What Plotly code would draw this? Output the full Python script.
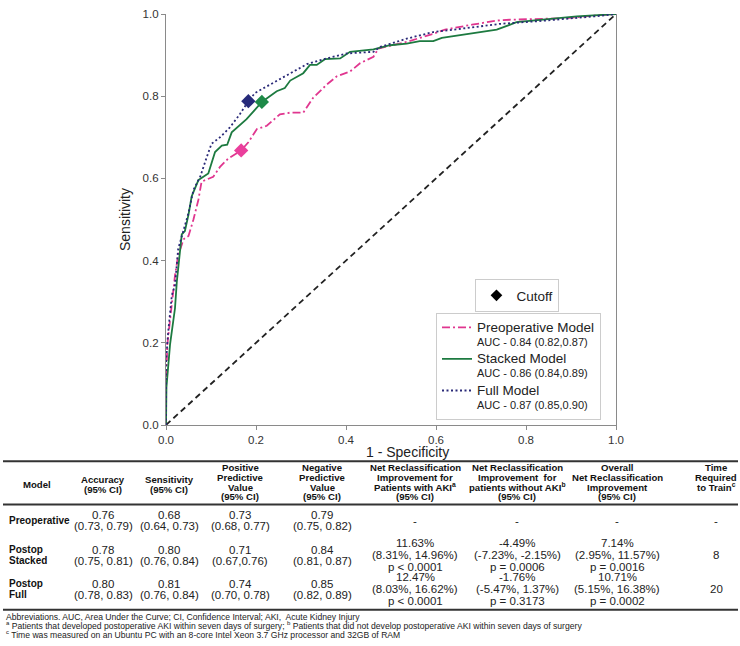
import plotly.graph_objects as go

# ROC curves: 1 - specificity (x) and sensitivity (y)
preop_fpr = [0, 0, 0.003, 0.013, 0.02, 0.027, 0.039, 0.05, 0.061, 0.072, 0.079, 0.105, 0.12, 0.138,
             0.167, 0.183, 0.202, 0.224, 0.253, 0.276, 0.305, 0.327, 0.357, 0.379, 0.409, 0.431,
             0.461, 0.472, 0.535, 0.594, 0.62, 0.68, 0.735, 0.764, 0.89, 0.948, 1.0]
preop_tpr = [0, 0.1, 0.196, 0.292, 0.364, 0.412, 0.452, 0.46, 0.5, 0.548, 0.592, 0.604, 0.628, 0.648,
             0.668, 0.688, 0.72, 0.728, 0.756, 0.76, 0.76, 0.796, 0.828, 0.848, 0.86, 0.88,
             0.896, 0.916, 0.932, 0.952, 0.962, 0.974, 0.984, 0.986, 0.99, 0.996, 1.0]

stacked_fpr = [0, 0, 0.001, 0.009, 0.013, 0.02, 0.024, 0.03, 0.035, 0.042, 0.05, 0.057, 0.062, 0.072,
               0.083, 0.094, 0.109, 0.124, 0.136, 0.146, 0.179, 0.213, 0.246, 0.264, 0.276, 0.305,
               0.32, 0.335, 0.353, 0.387, 0.409, 0.461, 0.498, 0.535, 0.564, 0.594, 0.613, 0.68,
               0.735, 0.779, 0.85, 0.913, 1.0]
stacked_tpr = [0, 0.05, 0.092, 0.196, 0.228, 0.284, 0.348, 0.42, 0.464, 0.472, 0.512, 0.556, 0.57, 0.596,
               0.604, 0.612, 0.664, 0.68, 0.682, 0.712, 0.744, 0.786, 0.812, 0.82, 0.838, 0.856,
               0.876, 0.876, 0.89, 0.892, 0.908, 0.914, 0.924, 0.928, 0.934, 0.934, 0.942, 0.952,
               0.962, 0.98, 0.988, 0.994, 1.0]

full_fpr = [0, 0, 0.003, 0.005, 0.013, 0.02, 0.027, 0.037, 0.05, 0.061, 0.076, 0.09, 0.101, 0.12,
            0.142, 0.164, 0.183, 0.198, 0.238, 0.276, 0.313, 0.357, 0.402, 0.461, 0.476, 0.535,
            0.594, 0.67, 0.742, 0.82, 0.89, 0.95, 1.0]
full_tpr = [0, 0.15, 0.2, 0.228, 0.316, 0.34, 0.428, 0.468, 0.516, 0.572, 0.604, 0.65, 0.684, 0.70,
            0.724, 0.756, 0.788, 0.808, 0.832, 0.856, 0.878, 0.892, 0.904, 0.908, 0.92, 0.94,
            0.956, 0.966, 0.976, 0.982, 0.988, 0.994, 1.0]

# cutoff points (preop, stacked, full)
cutoff_fpr = [0.167, 0.213, 0.183]
cutoff_tpr = [0.668, 0.786, 0.788]

model_names = ["Preoperative Model", "Stacked Model", "Full Model"]
model_auc = ["AUC - 0.84 (0.82,0.87)", "AUC - 0.86 (0.84,0.89)", "AUC - 0.87 (0.85,0.90)"]

# table below the chart
headers = [["Model"], ["Accuracy", "(95% CI)"], ["Sensitivity", "(95% CI)"],
           ["Positive", "Predictive", "Value", "(95% CI)"],
           ["Negative", "Predictive", "Value", "(95% CI)"],
           ["Net Reclassification", "Improvement for", "Patients with AKI<sup>a</sup>", "(95% CI)"],
           ["Net Reclassification", "Improvement  for", "patients without AKI<sup>b</sup>", "(95% CI)"],
           ["Overall", "Net Reclassification", "Improvement", "(95% CI)"],
           ["Time", "Required", "to Train<sup>c</sup>"]]
row_labels = [["Preoperative"], ["Postop", "Stacked"], ["Postop", "Full"]]
accuracy = [["0.76", "(0.73, 0.79)"], ["0.78", "(0.75, 0.81)"], ["0.80", "(0.78, 0.83)"]]
sensitivity = [["0.68", "(0.64, 0.73)"], ["0.80", "(0.76, 0.84)"], ["0.81", "(0.76, 0.84)"]]
ppv = [["0.73", "(0.68, 0.77)"], ["0.71", "(0.67,0.76)"], ["0.74", "(0.70, 0.78)"]]
npv = [["0.79", "(0.75, 0.82)"], ["0.84", "(0.81, 0.87)"], ["0.85", "(0.82, 0.89)"]]
nri_aki = [["-"], ["11.63%", "(8.31%, 14.96%)", "p < 0.0001"], ["12.47%", "(8.03%, 16.62%)", "p < 0.0001"]]
nri_no_aki = [["-"], ["-4.49%", "(-7.23%, -2.15%)", "p = 0.0006"], ["-1.76%", "(-5.47%, 1.37%)", "p = 0.3173"]]
nri_overall = [["-"], ["7.14%", "(2.95%, 11.57%)", "p = 0.0016"], ["10.71%", "(5.15%, 16.38%)", "p = 0.0002"]]
train_time = [["-"], ["8"], ["20"]]

footnotes = [
    "Abbreviations. AUC, Area Under the Curve; CI, Confidence Interval; AKI,  Acute Kidney Injury",
    "<sup>a</sup> Patients that developed postoperative AKI within seven days of surgery; "
    "<sup>b</sup> Patients that did not develop postoperative AKI within seven days of surgery",
    "<sup>c</sup> Time was measured on an Ubuntu PC with an 8-core Intel Xeon 3.7 GHz processor and 32GB of RAM",
]

FONT = "Liberation Sans, Arial, sans-serif"
colors = ["#e0368f", "#1d7a40", "#2a2a78"]
marker_colors = ["#ea3f9c", "#1e8a48", "#262a7a"]
dashes = ["8px,3px,2px,3px", "solid", "2px,2.5px"]

# plot area in pixels
L, T, W, H = 166, 8, 450, 417


def px(x):
    return (x - L) / W


def py(y):
    return (T + H - y) / H


fig = go.Figure()

fig.add_trace(go.Scatter(x=[0, 1], y=[0, 1], mode="lines", showlegend=False,
                         line=dict(color="#222222", width=1.8, dash="6px,4px")))

curves = [(preop_fpr, preop_tpr), (stacked_fpr, stacked_tpr), (full_fpr, full_tpr)]
for i, (fx, fy) in enumerate(curves):
    fig.add_trace(go.Scatter(
        x=fx, y=fy, mode="lines",
        name="<span style='font-size:13.5px'>" + model_names[i] + "</span><br>" + model_auc[i],
        line=dict(color=colors[i], width=1.8, dash=dashes[i]),
        legend="legend"))

for i in range(3):
    fig.add_trace(go.Scatter(x=[cutoff_fpr[i]], y=[cutoff_tpr[i]], mode="markers", showlegend=False,
                             marker=dict(symbol="diamond", size=11, color=marker_colors[i])))

fig.add_trace(go.Scatter(x=[None], y=[None], mode="markers", name="Cutoff", legend="legend2",
                         marker=dict(symbol="diamond", size=9, color="black")))

# table text
annotations = []
col_x = [37, 103, 169, 240, 322, 415, 517, 617, 716]
for c, lines in enumerate(headers):
    n = len(lines)
    top = 468 if n >= 3 else (480 if n == 2 else 485)
    for k, t in enumerate(lines):
        annotations.append(dict(x=px(col_x[c]), y=py(top + 10 * k), text="<b>" + t + "</b>",
                                font=dict(size=9.6, color="#111"), xanchor="center", yanchor="middle"))

row_y = [522, 557, 591.5]
columns = [accuracy, sensitivity, ppv, npv, nri_aki, nri_no_aki, nri_overall, train_time]
for r in range(3):
    for k, t in enumerate(row_labels[r]):
        n = len(row_labels[r])
        annotations.append(dict(x=px(7), y=py(row_y[r] + (k - (n - 1) / 2) * 11), text="<b>" + t + "</b>",
                                font=dict(size=10, color="#111"), xanchor="left", yanchor="middle"))
    for c, col in enumerate(columns):
        lines = col[r]
        n = len(lines)
        step = 12.4 if n == 3 else 11.3
        for k, t in enumerate(lines):
            annotations.append(dict(x=px(col_x[c + 1]), y=py(row_y[r] + (k - (n - 1) / 2) * step), text=t,
                                    font=dict(size=11.5, color="#222"), xanchor="center", yanchor="middle"))

for k, t in enumerate(footnotes):
    annotations.append(dict(x=px(4), y=py(619.5 + 8.8 * k), text=t, font=dict(size=8.6, color="#222"),
                            xanchor="left", yanchor="middle"))

annotations.append(dict(x=px(407), y=py(452), text="1 - Specificity", font=dict(size=14, color="#222"),
                        xanchor="center", yanchor="middle"))

for k in annotations:
    k.update(xref="paper", yref="paper", showarrow=False)

shapes = []
for y in [461.7, 505.7, 612.5]:
    shapes.append(dict(type="line", xref="paper", yref="paper", x0=px(3), x1=px(738), y0=py(y), y1=py(y),
                       line=dict(color="#333333", width=2)))

axis_style = dict(range=[0, 1], dtick=0.2, tickformat=".1f", showgrid=False, zeroline=False,
                  showline=True, linecolor="#8a8a8a", linewidth=1.2, ticks="outside", ticklen=4,
                  tickcolor="#8a8a8a", tickfont=dict(size=11.5, color="#333"))

fig.update_layout(
    width=740, height=646,
    margin=dict(l=L, r=740 - L - W, t=T, b=646 - T - H),
    paper_bgcolor="white", plot_bgcolor="white",
    font=dict(family=FONT, color="#222"),
    xaxis=dict(**axis_style),
    yaxis=dict(**axis_style, mirror=True, title=dict(text="Sensitivity", font=dict(size=14), standoff=8)),
    legend=dict(x=0.6, y=0.013, xanchor="left", yanchor="bottom", valign="top",
                font=dict(size=11, color="#222"), bgcolor="white", bordercolor="#cccccc", borderwidth=1,
                itemwidth=30, tracegroupgap=0),
    legend2=dict(x=0.781, y=0.355, xanchor="center", yanchor="top",
                 font=dict(size=13.5, color="#222"), bgcolor="white", bordercolor="#cccccc", borderwidth=1,
                 itemwidth=30),
    annotations=annotations,
    shapes=shapes,
)

# drop the page's default body margin so the figure sits at the window's corner
fig.write_html("out.html", config={"displayModeBar": False},
               post_script="document.body.style.margin='0';")
